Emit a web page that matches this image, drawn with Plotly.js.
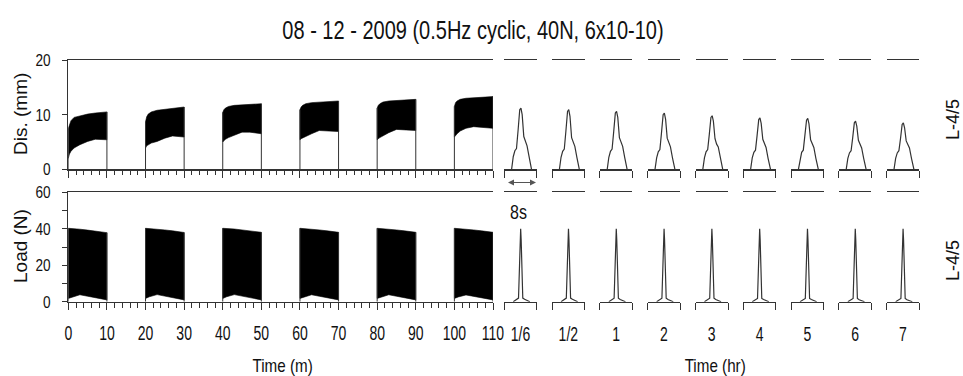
<!DOCTYPE html>
<html><head><meta charset="utf-8">
<script src="https://cdn.plot.ly/plotly-3.0.1.min.js"></script>
<style>html,body{margin:0;padding:0;background:#fff}#chart{width:963px;height:376px}</style>
</head><body><div id="chart"></div>
<script>
// ---------- DATA ----------
const cycleStarts = [0, 20, 40, 60, 80, 100];          // min
const cycleLength = 10;                                 // min
const minuteTicks = [0,10,20,30,40,50,60,70,80,90,100,110];

const disOffsets = [0, 0.3, 0.7, 1.5, 3, 5, 7, 10];     // min within cycle
const disUpper = [
  [7.5, 8.3, 8.9, 9.5, 9.8, 10.1, 10.3, 10.5],
  [8.7, 9.6, 10.1, 10.5, 10.8, 11.0, 11.2, 11.4],
  [10.4, 10.9, 11.2, 11.5, 11.7, 11.8, 11.9, 12.0],
  [10.9, 11.4, 11.7, 12.0, 12.2, 12.3, 12.4, 12.5],
  [11.2, 11.7, 12.0, 12.3, 12.5, 12.6, 12.7, 12.8],
  [11.5, 12.2, 12.5, 12.8, 13.0, 13.1, 13.2, 13.3]
];
const disLower = [
  [2.0, 2.8, 3.3, 3.9, 4.5, 5.1, 5.5, 5.4],
  [3.9, 4.3, 4.5, 4.8, 5.1, 5.7, 6.1, 5.9],
  [5.0, 5.3, 5.5, 5.8, 6.3, 6.8, 6.8, 6.5],
  [5.4, 5.6, 5.8, 6.0, 6.5, 7.1, 7.1, 6.9],
  [5.4, 5.6, 5.8, 6.2, 6.7, 7.3, 7.3, 7.1],
  [5.9, 6.2, 6.5, 7.0, 7.5, 7.8, 7.7, 7.5]
];

const loadOffsets = [0, 1, 3, 5, 7, 10];
const loadUpper = [
  [40.3, 40.2, 39.8, 39.3, 38.8, 37.9],
  [40.3, 40.2, 39.9, 39.4, 38.9, 38.0],
  [40.3, 40.3, 39.9, 39.4, 38.9, 38.1],
  [40.3, 40.2, 39.9, 39.4, 38.9, 38.1],
  [40.3, 40.2, 39.9, 39.4, 38.9, 38.1],
  [40.3, 40.2, 39.9, 39.4, 38.9, 38.1]
];
const loadLower = [
  [1.8, 2.6, 3.8, 3.0, 2.0, 1.0],
  [1.8, 2.7, 3.9, 3.1, 2.1, 1.0],
  [1.8, 2.7, 3.9, 3.1, 2.1, 1.0],
  [1.8, 2.6, 3.8, 3.0, 2.0, 1.0],
  [1.8, 2.6, 3.8, 3.0, 2.0, 1.0],
  [1.8, 2.6, 3.7, 3.0, 2.0, 1.0]
];

const hourLabels = ['1/6', '1/2', '1', '2', '3', '4', '5', '6', '7'];
const waveWindow = [0, 8];   // seconds shown per snapshot

const disWaveTime = [1.8, 2.2, 2.6, 3.0, 3.4, 3.8, 4.1, 4.4, 4.8, 5.2, 5.6, 6.1, 6.7];
const disWaves = [
  [0, 2.3, 3.4, 3.8, 7.2, 10.9, 11.2, 10.0, 6.0, 4.9, 4.3, 2.3, 0],
  [0, 2.2, 3.3, 3.7, 7.0, 10.6, 10.9, 9.7, 5.8, 4.8, 4.2, 2.2, 0],
  [0, 2.2, 3.3, 3.7, 6.9, 10.3, 10.6, 9.5, 5.8, 4.8, 4.2, 2.2, 0],
  [0, 2.1, 3.2, 3.6, 6.7, 10.0, 10.3, 9.2, 5.7, 4.7, 4.1, 2.1, 0],
  [0, 2.1, 3.2, 3.6, 6.4, 9.5, 9.8, 8.8, 5.6, 4.6, 4.1, 2.1, 0],
  [0, 2.1, 3.1, 3.5, 6.2, 9.1, 9.4, 8.4, 5.5, 4.6, 4.0, 2.0, 0],
  [0, 2.0, 3.1, 3.5, 6.1, 9.0, 9.3, 8.3, 5.4, 4.5, 4.0, 2.0, 0],
  [0, 2.0, 3.0, 3.4, 5.8, 8.5, 8.8, 7.9, 5.3, 4.4, 3.9, 2.0, 0],
  [0, 2.0, 3.0, 3.4, 5.6, 8.2, 8.5, 7.6, 5.2, 4.4, 3.9, 2.0, 0]
];

const loadWaveTime = [2.2, 2.9, 3.5, 3.75, 3.9, 4.03, 4.15, 4.3, 4.55, 5.0, 5.7, 6.3];
const loadWaves = [
  [0, 1.3, 2.0, 20, 34, 40.0, 34, 20, 2.0, 1.3, 0.7, 0],
  [0, 1.3, 2.0, 20, 34, 40.0, 34, 20, 2.0, 1.3, 0.7, 0],
  [0, 1.2, 1.9, 20, 34, 40.0, 34, 20, 1.9, 1.2, 0.7, 0],
  [0, 1.2, 1.9, 20, 34, 40.0, 34, 20, 1.9, 1.2, 0.6, 0],
  [0, 1.2, 1.9, 20, 34, 40.0, 34, 20, 1.9, 1.2, 0.6, 0],
  [0, 1.2, 1.8, 20, 34, 40.0, 34, 20, 1.8, 1.2, 0.6, 0],
  [0, 1.2, 1.8, 20, 34, 40.0, 34, 20, 1.8, 1.2, 0.6, 0],
  [0, 1.1, 1.8, 20, 34, 40.0, 34, 20, 1.8, 1.1, 0.6, 0],
  [0, 1.1, 1.8, 20, 34, 40.0, 34, 20, 1.8, 1.1, 0.6, 0]
];

// ---------- LAYOUT HELPERS ----------
const W = 963, H = 376;
const px = v => v / W;
const py = v => 1 - v / H;
// two "narrow" looks, emulated by compressing Liberation Sans glyphs after drawing
const NARROW = '"Liberation Sans Narrow", "Liberation Sans", Arial, sans-serif';          // factor 0.8
const NARROW_TICK = '"Arial Narrow", "Liberation Sans", Arial, sans-serif';              // factor 0.7
const SANS = '"Liberation Sans", Arial, sans-serif';
const LINE = '#333';

const leftX = [px(68.3), px(493)];
const topY = [py(169.3), py(60)];
const botY = [py(301.7), py(192.4)];
const panelStart = 504.3, panelStep = 47.8, panelWidth = 32.5;

const traces = [];

function bandTraces(offsets, uppers, lowers, xa, ya) {
  cycleStarts.forEach((s, i) => {
    const t = offsets.map(o => s + o);
    const up = uppers[i], lo = lowers[i];
    traces.push({
      type: 'scatter', mode: 'lines', xaxis: xa, yaxis: ya, hoverinfo: 'skip',
      x: t.concat(t.slice().reverse()).concat([t[0]]),
      y: up.concat(lo.slice().reverse()).concat([up[0]]),
      fill: 'toself', fillcolor: '#000', line: {color: '#000', width: 0.6}
    });
    const e = s + cycleLength;
    traces.push({
      type: 'scatter', mode: 'lines', xaxis: xa, yaxis: ya, hoverinfo: 'skip',
      x: [s, s, null, e, e],
      y: [0, up[0], null, 0, up[up.length - 1]],
      line: {color: LINE, width: 1}
    });
  });
}
bandTraces(disOffsets, disUpper, disLower, 'x', 'y');
bandTraces(loadOffsets, loadUpper, loadLower, 'x2', 'y2');

const layout = {
  width: W, height: H,
  margin: {l: 0, r: 0, t: 0, b: 0},
  paper_bgcolor: '#fff', plot_bgcolor: 'rgba(0,0,0,0)',
  showlegend: false,
  font: {family: NARROW, color: '#111'},
  title: {
    text: '08 - 12 - 2009 (0.5Hz cyclic, 40N, 6x10-10)',
    font: {family: NARROW, size: 25, color: '#111'},
    x: px(473), xanchor: 'center', y: py(30), yanchor: 'middle'
  },
  xaxis: {
    domain: leftX, anchor: 'y', range: [0, 110],
    showline: true, linecolor: LINE, linewidth: 1.3, mirror: true,
    tickmode: 'array', tickvals: minuteTicks, ticks: 'outside', ticklen: 7, tickcolor: LINE, tickwidth: 1,
    minor: {dtick: 2, tick0: 0, ticks: 'outside', ticklen: 4.5, tickcolor: LINE, tickwidth: 1},
    showticklabels: false, showgrid: false, zeroline: false
  },
  yaxis: {
    domain: topY, anchor: 'x', range: [0, 20],
    showline: true, linecolor: LINE, linewidth: 1.3,
    tickmode: 'linear', tick0: 0, dtick: 10, ticks: 'outside', ticklen: 5, tickcolor: LINE,
    tickfont: {family: NARROW, size: 17, color: '#111'}, ticklabelstandoff: 8,
    showgrid: false, zeroline: false
  },
  xaxis2: {
    domain: leftX, anchor: 'y2', range: [0, 110],
    showline: true, linecolor: LINE, linewidth: 1.3, mirror: true,
    tickmode: 'array', tickvals: minuteTicks, ticktext: minuteTicks.map(String),
    ticks: 'outside', ticklen: 7, tickcolor: LINE, tickwidth: 1,
    minor: {dtick: 2, tick0: 0, ticks: 'outside', ticklen: 4.5, tickcolor: LINE, tickwidth: 1},
    tickfont: {family: NARROW_TICK, size: 20, color: '#111'}, ticklabelstandoff: 6,
    showgrid: false, zeroline: false
  },
  yaxis2: {
    domain: botY, anchor: 'x2', range: [0, 60],
    showline: true, linecolor: LINE, linewidth: 1.3,
    tickmode: 'linear', tick0: 0, dtick: 20, ticks: 'outside', ticklen: 5, tickcolor: LINE,
    minor: {dtick: 10, tick0: 0, ticks: 'outside', ticklen: 5, tickcolor: LINE},
    tickfont: {family: NARROW, size: 17, color: '#111'}, ticklabelstandoff: 8,
    showgrid: false, zeroline: false
  },
  annotations: []
};

hourLabels.forEach((lab, k) => {
  const x0 = panelStart + panelStep * k;
  const dom = [px(x0), px(x0 + panelWidth)];
  const nTop = 3 + k, nBot = 12 + k;
  const base = {
    domain: dom, range: waveWindow,
    showline: true, linecolor: LINE, linewidth: 1.3, mirror: true,
    ticks: '', tickmode: 'array', tickvals: [4], ticktext: [lab],
    minor: {tickmode: 'array', tickvals: [0, 8], ticks: 'outside', ticklen: 7, tickcolor: LINE, tickwidth: 1},
    showgrid: false, zeroline: false
  };
  layout['xaxis' + nTop] = Object.assign({}, base, {anchor: 'y' + nTop, showticklabels: false});
  layout['yaxis' + nTop] = {domain: topY, anchor: 'x' + nTop, range: [0, 20], visible: false};
  layout['xaxis' + nBot] = Object.assign({}, base, {anchor: 'y' + nBot, showticklabels: true,
    tickfont: {family: NARROW_TICK, size: 20, color: '#111'}, ticklabelstandoff: 14});
  layout['yaxis' + nBot] = {domain: botY, anchor: 'x' + nBot, range: [0, 60], visible: false};

  traces.push({type: 'scatter', mode: 'lines', xaxis: 'x' + nTop, yaxis: 'y' + nTop, hoverinfo: 'skip',
    x: disWaveTime, y: disWaves[k], line: {color: LINE, width: 1.2}});
  traces.push({type: 'scatter', mode: 'lines', xaxis: 'x' + nBot, yaxis: 'y' + nBot, hoverinfo: 'skip',
    x: loadWaveTime, y: loadWaves[k], line: {color: LINE, width: 1.2}});
});

function note(text, x, y, size, family, angle) {
  layout.annotations.push({text: text, xref: 'paper', yref: 'paper', x: px(x), y: py(y),
    xanchor: 'center', yanchor: 'middle', showarrow: false, textangle: angle || 0,
    font: {family: family, size: size, color: '#111'}});
}
note('Dis. (mm)', 20, 114, 19, SANS, -90);
note('Load (N)', 20, 246, 19, SANS, -90);
note('L-4/5', 953, 120, 18, SANS, -90);
note('L-4/5', 953, 261, 18, SANS, -90);
note('Time (m)', 282, 365, 19, NARROW, 0);
note('Time (hr)', 715, 365, 19, NARROW, 0);
note('8s', 518, 212, 20, NARROW, 0);
layout.annotations.push({text: '', xref: 'paper', yref: 'paper', axref: 'paper', ayref: 'paper',
  x: px(536), y: py(182.5), ax: px(506.5), ay: py(182.5), showarrow: true,
  arrowhead: 2, arrowside: 'end+start', arrowsize: 1, arrowwidth: 1.2, arrowcolor: '#555'});

Plotly.newPlot('chart', traces, layout, {staticPlot: true, displayModeBar: false}).then(() => {
  // emulate narrow (condensed) faces: compress glyphs of texts set in the narrow families
  document.querySelectorAll('#chart svg text').forEach(t => {
    const fam = (t.style && t.style.fontFamily) || t.getAttribute('font-family') || '';
    let f = 0;
    if (fam.indexOf('Arial Narrow') !== -1) f = 0.7;
    else if (fam.indexOf('Liberation Sans Narrow') !== -1) f = 0.8;
    if (!f) return;
    const len = t.getComputedTextLength();
    if (!len) return;
    t.setAttribute('textLength', (len * f).toFixed(2));
    t.setAttribute('lengthAdjust', 'spacingAndGlyphs');
  });
});
</script>
</body></html>
